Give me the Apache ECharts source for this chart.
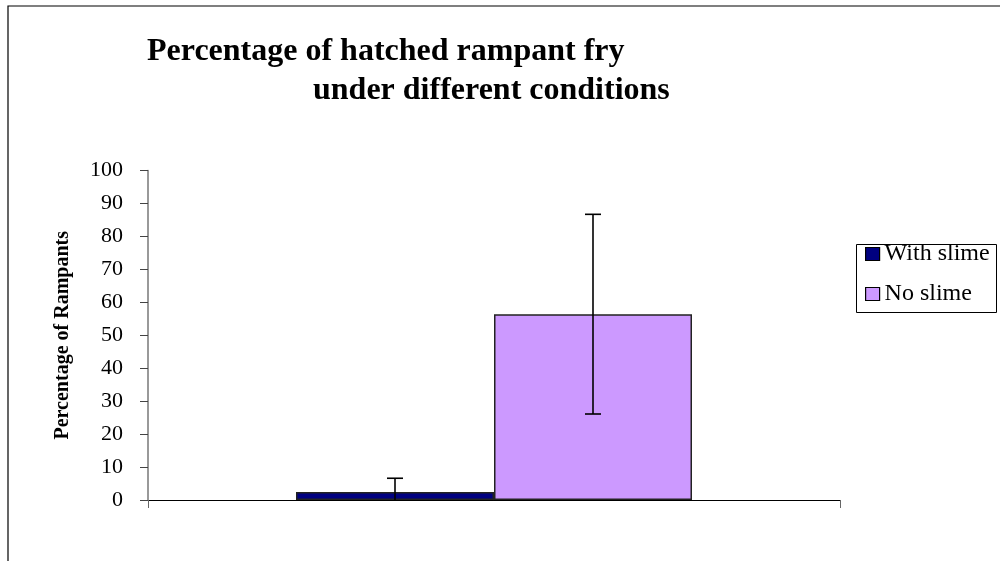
<!DOCTYPE html>
<html>
<head>
<meta charset="utf-8">
<style>
html,body{margin:0;padding:0;background:#fff;}
#chart{width:1000px;height:561px;}
</style>
<script src="https://cdn.jsdelivr.net/npm/echarts@6/dist/echarts.min.js"></script>
</head>
<body>
<div id="chart"></div>
<script>
var categories = [''];
var seriesNames = ['With slime', 'No slime'];
var withSlime = [2.4];
var withSlimeErr = [4.2];
var noSlime = [56.4];
var noSlimeErr = [30.3];
var yTicks = { min: 0, max: 100, interval: 10 };

var FONT = '"Liberation Serif", "Times New Roman", serif';
var BAR_W = 198;

function errorSeries(name, means, errs, offset) {
  return {
    type: 'custom',
    name: name + ' error',
    z: 5,
    silent: true,
    data: means.map(function (m, i) { return [i, m, errs[i]]; }),
    renderItem: function (params, api) {
      var idx = api.value(0), m = api.value(1), e = api.value(2);
      var x = api.coord([idx, 0])[0] + offset;
      var yTop = api.coord([idx, m + e])[1];
      var lowVal = m - e;
      var yLow = api.coord([idx, Math.max(0, lowVal)])[1];
      var style = { stroke: '#000', lineWidth: 1.6 };
      var children = [
        { type: 'line', shape: { x1: x, y1: yTop, x2: x, y2: yLow }, style: style },
        { type: 'line', shape: { x1: x - 8, y1: yTop, x2: x + 8, y2: yTop }, style: style }
      ];
      if (lowVal >= 0) {
        children.push({ type: 'line', shape: { x1: x - 8, y1: yLow, x2: x + 8, y2: yLow }, style: style });
      }
      return { type: 'group', children: children };
    }
  };
}

var chart = echarts.init(document.getElementById('chart'), null, { renderer: 'canvas' });
chart.setOption({
  backgroundColor: '#fff',
  animation: false,
  title: [
    { text: 'Percentage of hatched rampant fry', left: 147, top: 36, padding: 0,
      textStyle: { fontFamily: FONT, fontSize: 32, fontWeight: 'bold', color: '#000' } },
    { text: 'under different conditions', left: 313, top: 75, padding: 0,
      textStyle: { fontFamily: FONT, fontSize: 32, fontWeight: 'bold', color: '#000' } }
  ],
  graphic: [
    { type: 'rect', z: -10, shape: { x: 8, y: 6, width: 1100, height: 700 },
      style: { fill: '#fff', stroke: '#000', lineWidth: 1.2 } },
    { type: 'rect', z: 0, shape: { x: 856.5, y: 244.5, width: 140, height: 68 },
      style: { fill: '#fff', stroke: '#000', lineWidth: 1 } }
  ],
  legend: {
    orient: 'vertical',
    left: 865,
    top: 242,
    padding: 0,
    itemGap: 16,
    itemWidth: 14,
    itemHeight: 13,
    icon: 'rect',
    z: 10,
    data: seriesNames,
    itemStyle: { borderColor: '#000', borderWidth: 1.2 },
    textStyle: { fontFamily: FONT, fontSize: 24, color: '#000', padding: [0, 0, 0, 0] }
  },
  grid: { left: 148, right: 160, top: 170.5, bottom: 61, containLabel: false },
  xAxis: {
    type: 'category',
    data: categories,
    boundaryGap: true,
    axisLine: { show: true, lineStyle: { color: '#000', width: 1 } },
    axisTick: { show: true, length: 8, inside: false, lineStyle: { color: '#666' } },
    axisLabel: { show: false },
    splitLine: { show: false }
  },
  yAxis: {
    type: 'value',
    min: yTicks.min,
    max: yTicks.max,
    interval: yTicks.interval,
    name: 'Percentage of Rampants',
    nameLocation: 'middle',
    nameRotate: 90,
    nameGap: 75,
    nameTextStyle: { fontFamily: FONT, fontSize: 20, fontWeight: 'bold', color: '#000' },
    axisLine: { show: true, lineStyle: { color: '#777', width: 1.5 } },
    axisTick: { show: true, length: 8, inside: false, lineStyle: { color: '#444' } },
    axisLabel: { margin: 25, fontFamily: FONT, fontSize: 22, color: '#000' },
    splitLine: { show: false }
  },
  series: [
    { type: 'bar', name: seriesNames[0], data: withSlime, barWidth: BAR_W, barGap: '0%',
      itemStyle: { color: '#000080', borderColor: '#222', borderWidth: 1.5 } },
    { type: 'bar', name: seriesNames[1], data: noSlime, barWidth: BAR_W, barGap: '0%',
      itemStyle: { color: '#CC99FF', borderColor: '#222', borderWidth: 1.5 } },
    errorSeries(seriesNames[0], withSlime, withSlimeErr, -BAR_W / 2),
    errorSeries(seriesNames[1], noSlime, noSlimeErr, BAR_W / 2)
  ]
});
</script>
</body>
</html>
